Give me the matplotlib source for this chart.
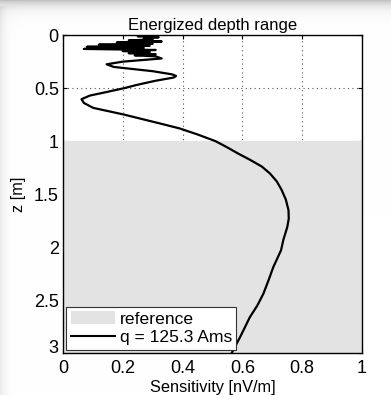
import numpy as np
import matplotlib
matplotlib.use("Agg")
import matplotlib.pyplot as plt
import matplotlib.transforms as mtransforms
from matplotlib.patches import Patch
from matplotlib.lines import Line2D

plt.rcParams['font.family'] = ['Liberation Sans', 'DejaVu Sans']

# Sensitivity profile versus depth
depth = [0.00, 0.01, 0.02, 0.03, 0.04, 0.05, 0.06, 0.07, 0.08, 0.09,
         0.10, 0.11, 0.12, 0.13, 0.14, 0.15, 0.16, 0.17, 0.18, 0.19,
         0.20, 0.22, 0.25, 0.275, 0.30, 0.34, 0.37, 0.385, 0.40, 0.43,
         0.47, 0.50, 0.54, 0.57, 0.604, 0.64, 0.686, 0.748, 0.833, 0.88,
         0.937, 1.00, 1.06, 1.116, 1.18, 1.24, 1.305, 1.38, 1.46, 1.55,
         1.65, 1.73, 1.81, 1.93, 2.03, 2.19, 2.30, 2.44, 2.55, 2.66,
         2.85, 3.00]
sensitivity = [0.30, 0.25, 0.32, 0.27, 0.30, 0.22, 0.33, 0.18, 0.30, 0.12,
               0.29, 0.08, 0.27, 0.07, 0.31, 0.20, 0.29, 0.22, 0.31, 0.24,
               0.31, 0.33, 0.20, 0.146, 0.17, 0.30, 0.365, 0.378, 0.37, 0.31,
               0.246, 0.205, 0.14, 0.09, 0.062, 0.07, 0.101, 0.202, 0.324, 0.39,
               0.45, 0.51, 0.55, 0.585, 0.628, 0.665, 0.692, 0.715, 0.731, 0.745,
               0.754, 0.755, 0.750, 0.737, 0.729, 0.703, 0.689, 0.670, 0.650, 0.625,
               0.592, 0.564]

ref_top, ref_bottom = 1.0, 3.0
series_label = "q = 125.3 Ams"
ref_label = "reference"

fig = plt.figure(figsize=(3.91, 3.95), dpi=100)
fig.patch.set_facecolor('white')

# soft window shading along the top and left edges
bg = fig.add_axes([0, 0, 1, 1], zorder=-10)
h, w = 395, 391
yy, xx = np.mgrid[0:h, 0:w]
shade = np.ones((h, w))
shade -= 0.24 * np.exp(-yy / 6.0)
shade -= 0.08 * np.exp(-xx / 5.0) * (yy > 5)
shade = np.clip(shade, 0, 1)
bg.imshow(np.dstack([shade] * 3), aspect='auto', extent=[0, 1, 0, 1], origin='upper')
bg.axis('off')

ax = fig.add_axes([0.161, 0.106, 0.765, 0.805])
ax.set_xlim(0, 1)
ax.set_ylim(3, 0)
ax.grid(True, linestyle=(0, (1, 3)), color='#555555', linewidth=0.8)
ax.set_axisbelow(True)

ax.axhspan(ref_top, ref_bottom, color='#e3e3e3', zorder=1.5, lw=0)
ax.plot(sensitivity, depth, color='black', lw=1.6, zorder=3,
        solid_joinstyle='round')

ax.set_xticks([0, 0.2, 0.4, 0.6, 0.8, 1])
ax.set_xticklabels(['0', '0.2', '0.4', '0.6', '0.8', '1'])
ax.set_yticks([0, 0.5, 1, 1.5, 2, 2.5, 3])
ax.set_yticklabels(['0', '0.5', '1', '1.5', '2', '2.5', '3'])
ax.tick_params(direction='in', length=3, labelsize=13, top=True, right=True)
ax.tick_params(axis='x', pad=5)
ax.tick_params(axis='y', pad=3)
for s in ax.spines.values():
    s.set_linewidth(1.0)
    s.set_zorder(4)

# lift the bottom depth label clear of the x-axis origin label
lift = mtransforms.ScaledTranslation(0, 5 / 72, fig.dpi_scale_trans)
ylabels = ax.get_yticklabels()
ylabels[-1].set_transform(ylabels[-1].get_transform() + lift)

ax.set_title("Energized depth range", fontsize=12, pad=4)
ax.set_xlabel("Sensitivity [nV/m]", fontsize=11.8)
ax.set_ylabel("z [m]", fontsize=11.8)
ax.xaxis.set_label_coords(0.5, -0.085)
ax.yaxis.set_label_coords(-0.125, 0.5)

handles = [Patch(facecolor='#e3e3e3', edgecolor='none'),
           Line2D([0], [0], color='black', lw=1.5)]
leg = ax.legend(handles, [ref_label, series_label], loc='lower left',
                fontsize=12.6, fancybox=False, framealpha=1, edgecolor='#333333',
                borderaxespad=0.2, handlelength=2.5, handletextpad=0.3,
                labelspacing=0.2, borderpad=0.25)
leg.get_frame().set_linewidth(0.8)
leg.set_zorder(5)

fig.savefig("out.png", dpi=100)
